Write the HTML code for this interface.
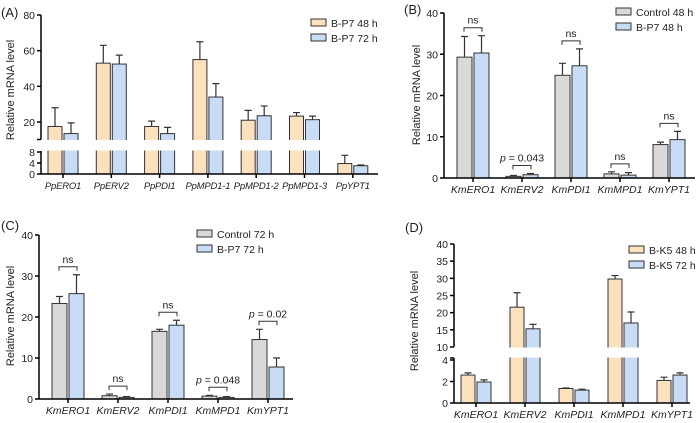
<!DOCTYPE html>
<html><head><meta charset="utf-8"><style>
body{margin:0;background:#fff;}
svg{display:block;font-family:"Liberation Sans",Arial,sans-serif;}
</style></head><body>
<svg id="c" width="700" height="423" viewBox="0 0 700 423"></svg>
<script>
// Panel A
const aCats=["PpERO1","PpERV2","PpPDI1","PpMPD1-1","PpMPD1-2","PpMPD1-3","PpYPT1"];
const a48=[17.5,53,17.5,55,21,23.3,3.8];
const a48e=[10.5,10,3,10,5.5,2,3];
const a72=[13.5,52.5,13.5,34,23.5,21.3,3.0];
const a72e=[6,5,3.5,7.5,5.5,2,0.3];
const aTicksUp=[20,40,60,80];
const aTicksLo=[0,4,8];
// Panel B
const bCats=["KmERO1","KmERV2","KmPDI1","KmMPD1","KmYPT1"];
const bCtrl=[29.3,0.4,24.9,1.0,8.1];
const bCtrlE=[5,0.2,2.9,0.5,0.6];
const bP7=[30.3,0.8,27.2,0.7,9.3];
const bP7E=[4.2,0.3,4.1,0.6,2.0];
const bSig=["ns","p = 0.043","ns","ns","ns"];
const bTicks=[0,10,20,30,40];
// Panel C
const cCats=["KmERO1","KmERV2","KmPDI1","KmMPD1","KmYPT1"];
const cCtrl=[23.3,0.8,16.5,0.7,14.5];
const cCtrlE=[1.7,0.4,0.5,0.2,2.5];
const cP7=[25.7,0.4,18.0,0.4,7.8];
const cP7E=[4.6,0.2,1.2,0.2,2.2];
const cSig=["ns","ns","ns","p = 0.048","p = 0.02"];
const cTicks=[0,10,20,30,40];
// Panel D
const dCats=["KmERO1","KmERV2","KmPDI1","KmMPD1","KmYPT1"];
const d48=[2.6,21.6,1.35,29.8,2.1];
const d48e=[0.2,4.2,0.05,1.0,0.3];
const d72=[1.95,15.3,1.2,17.0,2.6];
const d72e=[0.2,1.3,0.08,3.2,0.2];
const dTicksUp=[10,15,20,25,30,35,40];
const dTicksLo=[0,2,4];

const svg=document.getElementById('c');
const NS="http://www.w3.org/2000/svg";
function mk(tag,attrs,parent){const e=document.createElementNS(NS,tag);for(const k in attrs)e.setAttribute(k,attrs[k]);(parent||svg).appendChild(e);return e;}
function txt(x,y,s,anchor,size,parent,italic){const t=mk('text',{x:x,y:y,'text-anchor':anchor,'font-size':size,fill:'#222'},parent);if(italic)t.setAttribute('font-style','italic');t.textContent=s;return t;}

const ORANGE="#fce1bf",BLUE="#c8ddf5",GRAY="#d9d9d9",STROKE="#333";

function panel(o){
  const g=mk('g',{});
  
  
  const pl=txt(o.lx,o.ly,o.letter,'start',13,g);
  
  
  const yt=txt(0,0,'Relative mRNA level','middle',11,g);
  yt.setAttribute('transform','translate('+o.ytx+','+o.yty+') rotate(-90)');
  
  
  const n=o.cats.length;
  for(let i=0;i<n;i++){
    const cx=o.x0+i*o.step;
    [[o.s1,o.e1,o.c1,cx-o.bw-1,'bar-series1-'+i],[o.s2,o.e2,o.c2,cx+1,'bar-series2-'+i]].forEach(([s,e,col,bx,nm])=>{
      const v=s[i],err=e[i];
      const yv=o.y(v),ye=o.y(v+err),mx=bx+o.bw/2;
      const eb=mk('path',{d:'M'+mx+' '+yv+'V'+ye+'M'+(mx-3.5)+' '+ye+'H'+(mx+3.5),stroke:STROKE,'stroke-width':1.2,fill:'none'},g);
      
      
      const r=mk('rect',{x:bx,y:yv,width:o.bw,height:Math.max(0,o.axY-yv),fill:col,stroke:STROKE,'stroke-width':1},g);
      
      
    });
    mk('line',{x1:cx,x2:cx,y1:o.axY,y2:o.axY+4,stroke:'#000','stroke-width':1.5},g);
    const xl=txt(cx,o.axY+15,o.cats[i],'middle',o.xfs||10.5,g,true);
    if(o.xls) xl.setAttribute('letter-spacing',o.xls);
    
    
    if(o.sig){
      const top=Math.max(o.s1[i]+o.e1[i],o.s2[i]+o.e2[i]);
      const by=o.y(top)-8;
      const bk=mk('path',{d:'M'+(cx-9)+' '+(by+4)+'V'+by+'H'+(cx+9)+'V'+(by+4),stroke:'#333','stroke-width':1,fill:'none'},g);
      
      
      const s=o.sig[i];
      const st=mk('text',{x:cx,y:by-4,'text-anchor':'middle','font-size':10.5,fill:'#222'},g);
      if(s.startsWith('p')){const it=mk('tspan',{'font-style':'italic'},st);it.textContent='p';const r=mk('tspan',{},st);r.textContent=s.slice(1);}
      else st.textContent=s;
      
      
    }
  }
  if(o.gap){
    const gb=mk('rect',{x:o.axX-8,y:o.gap[0],width:o.axEnd-o.axX+8,height:o.gap[1]-o.gap[0],fill:'#fff'},g);
    
    
  }
  mk('line',{x1:o.axX,x2:o.axEnd,y1:o.axY,y2:o.axY,stroke:'#000','stroke-width':1.5},g);
  o.ySegments.forEach(([t,b])=>mk('line',{x1:o.axX,x2:o.axX,y1:t,y2:b,stroke:'#000','stroke-width':1.5},g));
  o.ticks.forEach(t=>{
    const yy=o.y(t);
    mk('line',{x1:o.axX-4,x2:o.axX,y1:yy,y2:yy,stroke:'#000','stroke-width':1.5},g);
    const tl=txt(o.axX-6,yy+4,String(t),'end',10.5,g);
    
    
  });
  (o.breakTicks||[]).forEach(yy=>mk('line',{x1:o.axX-4,x2:o.axX,y1:yy,y2:yy,stroke:'#000','stroke-width':1.5},g));
  o.legend.forEach(([lab,col],k)=>{
    const ly=o.legY+k*15;
    const lr=mk('rect',{x:o.legX,y:ly-4,width:15,height:7,fill:col,stroke:STROKE,'stroke-width':1},g);
    
    
    const lt=txt(o.legX+20,ly+4,lab,'start',10.5,g);
    
    
  });
}

function linScale(v0,y0,v1,y1){return v=>y0+(v-v0)*(y1-y0)/(v1-v0);}
const aLo=linScale(0,174,8,152), aUp=linScale(20,122,80,15);
function aY(v){return v<=9?aLo(v):aUp(v);}
panel({name:'panel-a',letter:'(A)',lx:1,ly:17,ytx:14,yty:90,cats:aCats,s1:a48,e1:a48e,s2:a72,e2:a72e,c1:ORANGE,c2:BLUE,
  x0:63,step:48.3,bw:14,axY:174,axX:41,axEnd:378,y:aY,xfs:9.5,xls:-0.2,
  gap:[140,150.5],
  ySegments:[[15,139.5],[151,174]],ticks:[...aTicksLo,...aTicksUp],breakTicks:[139.5],
  legend:[['B-P7 48 h',ORANGE],['B-P7 72 h',BLUE]],legX:311,legY:23});
const bY=linScale(0,178,40,13);
panel({name:'panel-b',letter:'(B)',lx:404,ly:14,ytx:420,yty:95,cats:bCats,s1:bCtrl,e1:bCtrlE,s2:bP7,e2:bP7E,c1:GRAY,c2:BLUE,
  x0:473,step:49,bw:15,axY:178,axX:444,axEnd:695,y:bY,
  ySegments:[[13,178]],ticks:bTicks,legend:[['Control 48 h',GRAY],['B-P7 48 h',BLUE]],legX:616,legY:12,sig:bSig});
const cY=linScale(0,399,40,235);
panel({name:'panel-c',letter:'(C)',lx:1,ly:230,ytx:14,yty:316,cats:cCats,s1:cCtrl,e1:cCtrlE,s2:cP7,e2:cP7E,c1:GRAY,c2:BLUE,
  x0:68,step:50,bw:15,axY:399,axX:39,axEnd:293,y:cY,
  ySegments:[[235,399]],ticks:cTicks,legend:[['Control 72 h',GRAY],['B-P7 72 h',BLUE]],legX:197,legY:234,sig:cSig});
const dLo=linScale(0,403,4,360), dUp=linScale(10,347,40,244);
function dY(v){return v<=7?dLo(v):dUp(v);}
panel({name:'panel-d',letter:'(D)',lx:405,ly:232,ytx:418,yty:321,cats:dCats,s1:d48,e1:d48e,s2:d72,e2:d72e,c1:ORANGE,c2:BLUE,
  x0:476,step:49,bw:14,axY:403,axX:454,axEnd:690,y:dY,
  gap:[347.5,357.5],
  ySegments:[[244,347],[358,403]],ticks:[...dTicksLo,...dTicksUp],breakTicks:[358],
  legend:[['B-K5 48 h',ORANGE],['B-K5 72 h',BLUE]],legX:629,legY:250});
</script>
</body></html>
